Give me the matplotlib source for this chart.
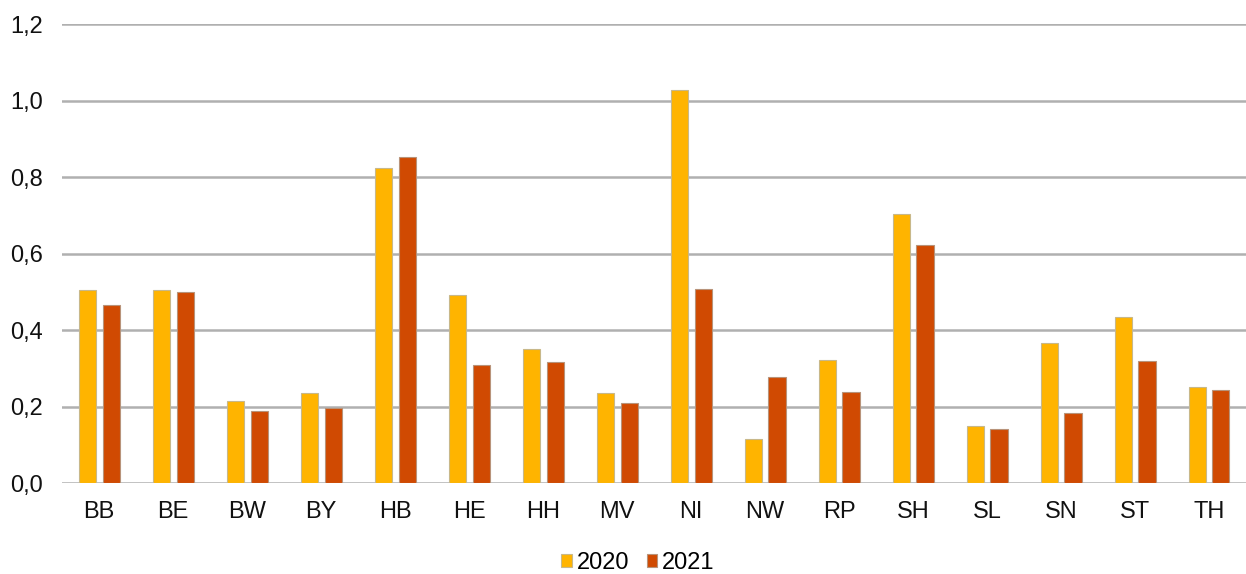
import matplotlib.pyplot as plt
import numpy as np

plt.rcParams['font.family'] = ['Liberation Sans', 'DejaVu Sans']

states = ["BB", "BE", "BW", "BY", "HB", "HE", "HH", "MV",
          "NI", "NW", "RP", "SH", "SL", "SN", "ST", "TH"]
values_2020 = [0.506, 0.506, 0.214, 0.237, 0.824, 0.493, 0.350, 0.235,
               1.028, 0.115, 0.322, 0.703, 0.149, 0.367, 0.434, 0.251]
values_2021 = [0.467, 0.500, 0.188, 0.198, 0.853, 0.308, 0.316, 0.209,
               0.509, 0.278, 0.238, 0.623, 0.143, 0.183, 0.320, 0.243]
yticks = [0.0, 0.2, 0.4, 0.6, 0.8, 1.0, 1.2]


def main():
    fig = plt.figure(figsize=(12.46, 5.74), dpi=100)
    ax = fig.add_axes([0.0498, 0.158, 0.9502, 0.8])
    x = np.arange(len(states))
    width = 0.23
    off = 0.162
    ax.bar(x - off, values_2020, width, color='#FFB400',
           edgecolor='#c8b88a', linewidth=0.8, label='2020', zorder=3)
    ax.bar(x + off, values_2021, width, color='#D04A02',
           edgecolor='#b8937a', linewidth=0.8, label='2021', zorder=3)

    ax.set_xlim(-0.5, len(states) - 0.5)
    ax.set_ylim(0, 1.2)
    ax.set_yticks(yticks)
    ax.set_yticklabels([f"{v:.1f}".replace('.', ',') for v in yticks],
                       fontsize=17, color='#111111')
    ax.set_xticks(x)
    ax.set_xticklabels(states, fontsize=17, color='#111111')
    ax.tick_params(axis='both', length=0)
    ax.tick_params(axis='y', pad=13.5)
    ax.tick_params(axis='x', pad=13)
    ax.yaxis.grid(True, color='#b0b0b0', linewidth=1.8, zorder=0)
    ax.set_axisbelow(True)
    for s in ax.spines.values():
        s.set_visible(False)

    fig.legend(loc='center', bbox_to_anchor=(0.512, 0.019), ncol=2,
               frameon=False, fontsize=17, handlelength=0.45,
               handleheight=0.45, handletextpad=0.2, columnspacing=0.75)
    fig.savefig("out.png", dpi=100)


if __name__ == "__main__":
    main()
